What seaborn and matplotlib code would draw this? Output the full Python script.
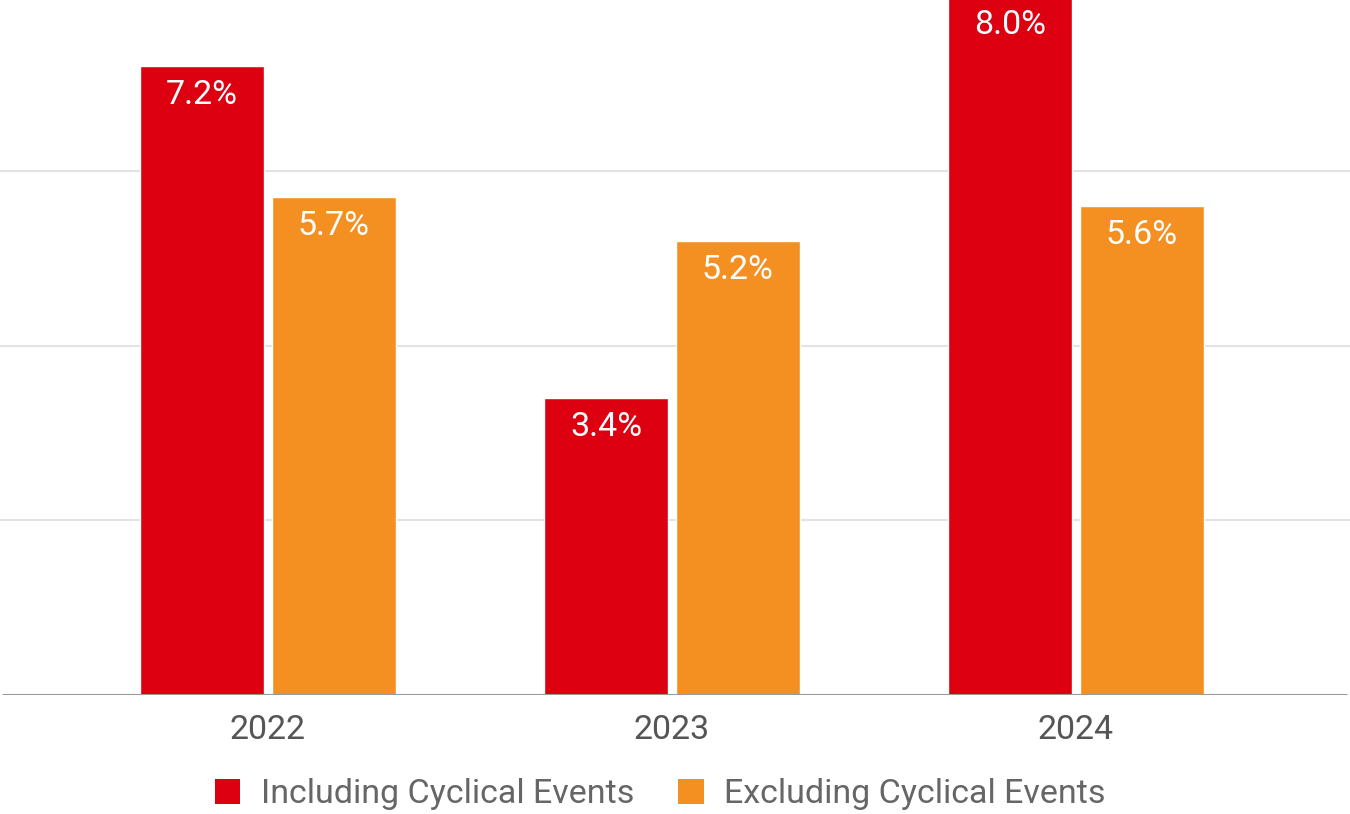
import matplotlib
matplotlib.use("Agg")
import matplotlib.pyplot as plt
import seaborn as sns
import pandas as pd
from matplotlib.patches import Patch

# data
years = ["2022", "2023", "2024"]
including = [7.2, 3.4, 8.0]
excluding = [5.7, 5.2, 5.6]
series_names = ["Including Cyclical Events", "Excluding Cyclical Events"]
colors = ["#dc0011", "#f39021"]

df = pd.DataFrame({
    "year": years * 2,
    "value": including + excluding,
    "series": [series_names[0]] * 3 + [series_names[1]] * 3,
})

sns.set_theme(style="white")
plt.rcParams["font.family"] = ["Roboto", "DejaVu Sans"]

fig = plt.figure(figsize=(13.5, 8.14), dpi=100)
# axes spans full width; bottom at baseline, top at the cropped image edge
ax = fig.add_axes([0, 119 / 814, 1, 695 / 814])

sns.barplot(
    data=df, x="year", y="value", hue="series",
    palette=colors, width=0.653, gap=0.055,
    saturation=1, legend=False, ax=ax, zorder=3,
)

ax.set_xlim(-0.663, 2.678)
ax.set_ylim(0, 7.96)

# gridlines and baseline
for g in [2, 4, 6]:
    ax.axhline(g, color="#e3e3e3", lw=1.5, zorder=1)
ax.axhline(0, xmin=0.002, xmax=0.997, color="#9a9a9a", lw=2.2, zorder=4)

# value labels inside bars, near the top
for container in ax.containers:
    for bar in container:
        h = bar.get_height()
        ax.text(bar.get_x() + bar.get_width() / 2, h - 0.33, f"{h:.1f}%",
                ha="center", va="center", color="white", fontsize=24.5,
                zorder=5)

for s in ax.spines.values():
    s.set_visible(False)
ax.set_yticks([])
ax.set_xlabel("")
ax.set_ylabel("")
ax.tick_params(axis="x", length=0, pad=14, labelsize=24.5, labelcolor="#555555")

handles = [Patch(facecolor=c, edgecolor="none") for c in colors]
fig.legend(handles, series_names, loc="center", bbox_to_anchor=(0.489, 0.024),
           ncol=2, frameon=False, fontsize=24.5, labelcolor="#666666",
           handlelength=0.75, handleheight=0.75, handletextpad=0.6,
           columnspacing=1.3)

fig.savefig("out.png", dpi=100)
